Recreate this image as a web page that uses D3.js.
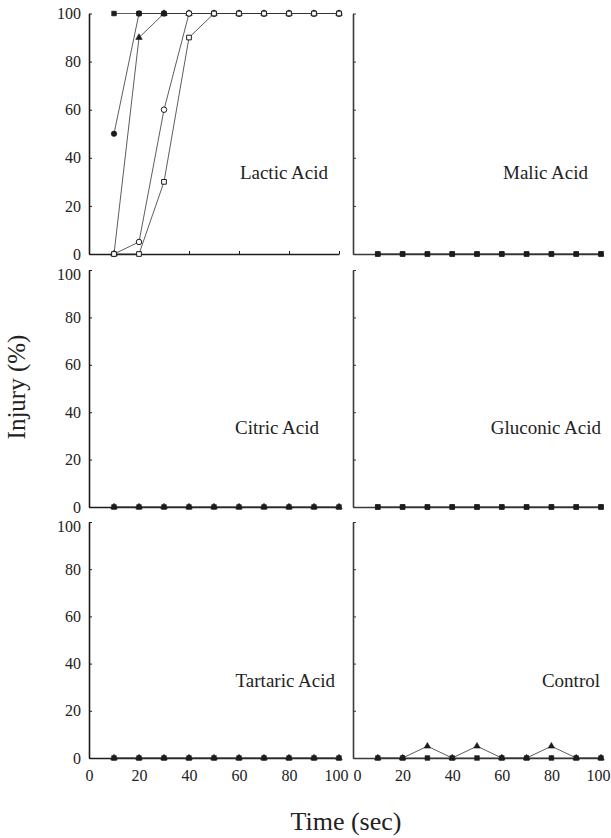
<!DOCTYPE html>
<html>
<head>
<meta charset="utf-8">
<script src="https://cdn.jsdelivr.net/npm/d3@7/dist/d3.min.js"></script>
<style>
  html, body { margin: 0; padding: 0; background: #fff; }
  svg { display: block; }
  svg text { font-family: "Liberation Serif", "Times New Roman", serif !important; fill: #222; }
</style>
</head>
<body>
<svg id="chart" width="611" height="838"></svg>
<script>
// ---- data ----
const times = [10, 20, 30, 40, 50, 60, 70, 80, 90, 100];
const xTickValues = [0, 20, 40, 60, 80, 100];
const yTickValues = [0, 20, 40, 60, 80, 100];
const panelNames = ["Lactic Acid", "Malic Acid", "Citric Acid", "Gluconic Acid", "Tartaric Acid", "Control"];

// Lactic acid
const lacticFilledTriangle = [0, 90, 100, 100, 100, 100, 100, 100, 100, 100];
const lacticFilledCircle   = [50, 100, 100, 100, 100, 100, 100, 100, 100, 100];
const lacticFilledSquare   = [100, 100, 100, 100, 100, 100, 100, 100, 100, 100];
const lacticOpenCircle     = [0, 5, 60, 100, 100, 100, 100, 100, 100, 100];
const lacticOpenSquare     = [0, 0, 30, 90, 100, 100, 100, 100, 100, 100];
// Malic acid
const malicSquare    = [0, 0, 0, 0, 0, 0, 0, 0, 0, 0];
const malicTriangle  = [0, 0, 0, 0, 0, 0, 0, 0, 0, 0];
// Citric acid
const citricSquare   = [0, 0, 0, 0, 0, 0, 0, 0, 0, 0];
const citricTriangle = [0, 0, 0, 0, 0, 0, 0, 0, 0, 0];
// Gluconic acid
const gluconicSquare   = [0, 0, 0, 0, 0, 0, 0, 0, 0, 0];
const gluconicTriangle = [0, 0, 0, 0, 0, 0, 0, 0, 0, 0];
// Tartaric acid
const tartaricSquare   = [0, 0, 0, 0, 0, 0, 0, 0, 0, 0];
const tartaricTriangle = [0, 0, 0, 0, 0, 0, 0, 0, 0, 0];
// Control
const controlSquare   = [0, 0, 0, 0, 0, 0, 0, 0, 0, 0];
const controlTriangle = [0, 0, 5, 0, 5, 0, 0, 5, 0, 0];

// ---- layout ----
const colRanges = [[89, 339], [353, 601]];
const rowRanges = [[254, 13.5], [507, 270], [758, 522]];
// label anchor (end) offsets relative to panel [x0, y0]
const labelPos = [[239, -75], [235, -75], [230, -73], [248, -73], [246, -71], [247, -71]];

const panels = [
  { col: 0, row: 0, alternate: false, series: [
      { v: lacticFilledTriangle, sym: "triangle", fill: true },
      { v: lacticFilledCircle, sym: "circle", fill: true },
      { v: lacticFilledSquare, sym: "square", fill: true },
      { v: lacticOpenCircle, sym: "circle", fill: false },
      { v: lacticOpenSquare, sym: "square", fill: false } ] },
  { col: 1, row: 0, alternate: true, series: [
      { v: malicSquare, sym: "square", fill: true },
      { v: malicTriangle, sym: "square", fill: true } ] },
  { col: 0, row: 1, alternate: true, series: [
      { v: citricSquare, sym: "square", fill: true },
      { v: citricTriangle, sym: "triangle", fill: true } ] },
  { col: 1, row: 1, alternate: true, series: [
      { v: gluconicSquare, sym: "square", fill: true },
      { v: gluconicTriangle, sym: "square", fill: true } ] },
  { col: 0, row: 2, alternate: true, series: [
      { v: tartaricSquare, sym: "square", fill: true },
      { v: tartaricTriangle, sym: "triangle", fill: true } ] },
  { col: 1, row: 2, alternate: true, series: [
      { v: controlSquare, sym: "square", fill: true },
      { v: controlTriangle, sym: "triangle", fill: true } ] }
];

const symTypes = { square: d3.symbolSquare, circle: d3.symbolCircle, triangle: d3.symbolTriangle };
const symSizes = { square: 22, circle: 24, triangle: 18 };
const ink = "#1c1c1c";
const fontFam = '"Liberation Serif", "Times New Roman", serif';

const svg = d3.select("#chart");

panels.forEach((p, pi) => {
  const x = d3.scaleLinear().domain([0, 100]).range(colRanges[p.col]);
  const y = d3.scaleLinear().domain([0, 100]).range(rowRanges[p.row]);
  const g = svg.append("g");

  // axes
  const xAxis = d3.axisBottom(x).tickValues(xTickValues).tickSizeInner(-3).tickSizeOuter(0).tickPadding(12);
  const yAxis = d3.axisLeft(y).tickValues(yTickValues).tickSizeInner(-3).tickSizeOuter(0).tickPadding(8);

  const gx = g.append("g").attr("transform", `translate(0,${y(0)})`).call(xAxis);
  const gy = g.append("g").attr("transform", `translate(${x(0)},0)`).call(yAxis);
  const axisInk = p.col === 0 ? ink : "#3a3a3a";
  [gx, gy].forEach(a => {
    a.attr("font-family", null);
    a.select(".domain").attr("stroke", axisInk).attr("stroke-width", 1.6);
    a.selectAll(".tick line").attr("stroke", axisInk).attr("stroke-width", 1);
    a.selectAll(".tick text").style("font-family", fontFam).attr("font-size", 16).attr("fill", "#222");
  });
  if (p.row !== 2) gx.selectAll(".tick text").remove();
  else {
    // small nudges so neighbouring panels' end labels do not collide / clip
    gx.selectAll(".tick text").attr("dx", d =>
      (p.col === 0 && d === 100) ? -3 :
      (p.col === 1 && d === 0) ? 4 :
      (p.col === 1 && d === 100) ? -3 : 0);
  }
  if (p.col !== 0) gy.selectAll(".tick text").remove();
  else if (p.row !== 0) gy.selectAll(".tick text").attr("dy", d => d === 100 ? "0.6em" : "0.32em");

  // lines
  const line = d3.line().x((d, i) => x(times[i])).y(d => y(d));
  p.series.forEach(s => {
    g.append("path").datum(s.v)
      .attr("d", line)
      .attr("fill", "none")
      .attr("stroke", "#333")
      .attr("stroke-width", 0.8);
  });

  // markers
  const pts = [];
  p.series.forEach((s, si) => s.v.forEach((v, ti) => {
    let key = si;
    if (p.alternate) key = (ti % 2 === 0) ? (s.sym === "square" ? 1 : 0) : (s.sym === "square" ? 0 : 1);
    pts.push({ s, si, ti, v, key: key * 100 + si });
  }));
  pts.sort((a, b) => a.key - b.key);
  g.selectAll("path.mk").data(pts).join("path")
    .attr("class", "mk")
    .attr("transform", d => `translate(${x(times[d.ti])},${y(d.v)})`)
    .attr("d", d => d3.symbol().type(symTypes[d.s.sym]).size(symSizes[d.s.sym])())
    .attr("fill", d => d.s.fill ? ink : "#fff")
    .attr("stroke", ink)
    .attr("stroke-width", d => d.s.fill ? 0.6 : 1);

  // panel label
  g.append("text")
    .attr("x", x(0) + labelPos[pi][0])
    .attr("y", y(0) + labelPos[pi][1])
    .attr("text-anchor", "end")
    .attr("font-size", 19)
    .style("font-family", fontFam)
    .text(panelNames[pi]);
});

// axis titles
svg.append("text")
  .attr("transform", "translate(25,387) rotate(-90)")
  .attr("text-anchor", "middle")
  .attr("font-size", 25)
  .style("font-family", fontFam)
  .text("Injury (%)");

svg.append("text")
  .attr("x", 346)
  .attr("y", 830)
  .attr("text-anchor", "middle")
  .attr("font-size", 26)
  .style("font-family", fontFam)
  .text("Time (sec)");
</script>
</body>
</html>
